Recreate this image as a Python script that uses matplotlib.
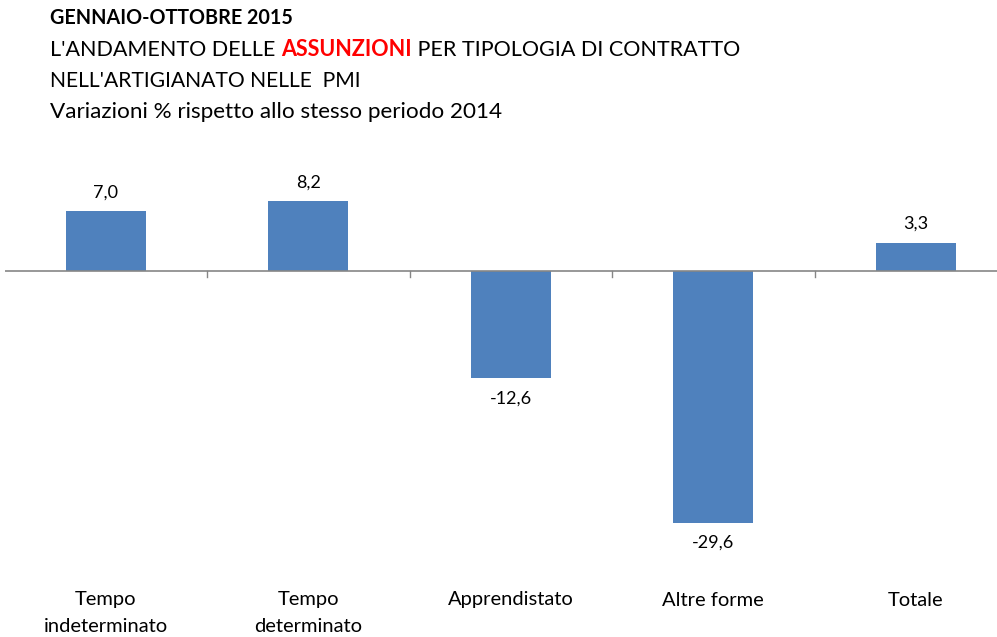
import matplotlib.pyplot as plt

categories = ["Tempo\nindeterminato", "Tempo\ndeterminato", "Apprendistato", "Altre forme", "Totale"]
values = [7.0, 8.2, -12.6, -29.6, 3.3]
value_labels = ["7,0", "8,2", "-12,6", "-29,6", "3,3"]

plt.rcParams['font.family'] = ['Lato', 'DejaVu Sans']

W, H = 997, 637
fig = plt.figure(figsize=(W / 100, H / 100), dpi=100)

# axes in pixel terms: x categories ~202.5 px apart starting at 4.5 px, zero line at y=271
left_px, right_px = 4.5, 997
top_px, bot_px = 150, 560
ax = fig.add_axes([left_px / W, 1 - bot_px / H, (right_px - left_px) / W, (bot_px - top_px) / H])
step = 202.5
ax.set_xlim(-0.5, -0.5 + (right_px - left_px) / step)
ppu = 8.5
ax.set_ylim(-(bot_px - 271) / ppu, (271 - top_px) / ppu)

x = range(len(values))
bars = ax.bar(x, values, width=80 / step, color="#4F81BD", zorder=2)

for xi, v, lab in zip(x, values, value_labels):
    if v >= 0:
        ax.annotate(lab, (xi, v), xytext=(0, 8), textcoords="offset points",
                    ha="center", va="bottom", fontsize=13, color="#000000")
    else:
        ax.annotate(lab, (xi, v), xytext=(0, -9), textcoords="offset points",
                    ha="center", va="top", fontsize=13, color="#000000")

ax.axhline(0, color="#868686", lw=1.2, zorder=3)
for b in [0.5, 1.5, 2.5, 3.5]:
    ax.plot([b, b], [0, -6 / ppu], color="#868686", lw=1.0, clip_on=False, zorder=3)

for s in ax.spines.values():
    s.set_visible(False)
ax.set_xticks([])
ax.set_yticks([])

# category labels, one text per line
for xi, c in zip(x, categories):
    xf = (left_px + (xi + 0.5) * step) / W
    for k, line in enumerate(c.split("\n")):
        fig.text(xf, 1 - (600 + 27 * k) / H, line, ha="center", va="center", fontsize=14.5)

# titles
fig.text(50 / W, 1 - 18 / H, "GENNAIO-OTTOBRE 2015", fontsize=14.2, fontweight="bold", va="center")
fig.canvas.draw()
renderer = fig.canvas.get_renderer()
y2 = 1 - 50 / H
t1 = fig.text(50 / W, y2, "L'ANDAMENTO DELLE ", fontsize=15.5, va="center")
bb = t1.get_window_extent(renderer)
t2 = fig.text(bb.x1 / W, y2, "ASSUNZIONI", fontsize=15.5, va="center", color="#FF0000", fontweight="bold")
bb = t2.get_window_extent(renderer)
fig.text(bb.x1 / W, y2, " PER TIPOLOGIA DI CONTRATTO", fontsize=15.5, va="center")
fig.text(50 / W, 1 - 81 / H, "NELL'ARTIGIANATO NELLE  PMI", fontsize=15.2, va="center")
fig.text(50 / W, 1 - 112 / H, "Variazioni % rispetto allo stesso periodo 2014", fontsize=16.2, va="center")

fig.savefig("out.png", dpi=100)
